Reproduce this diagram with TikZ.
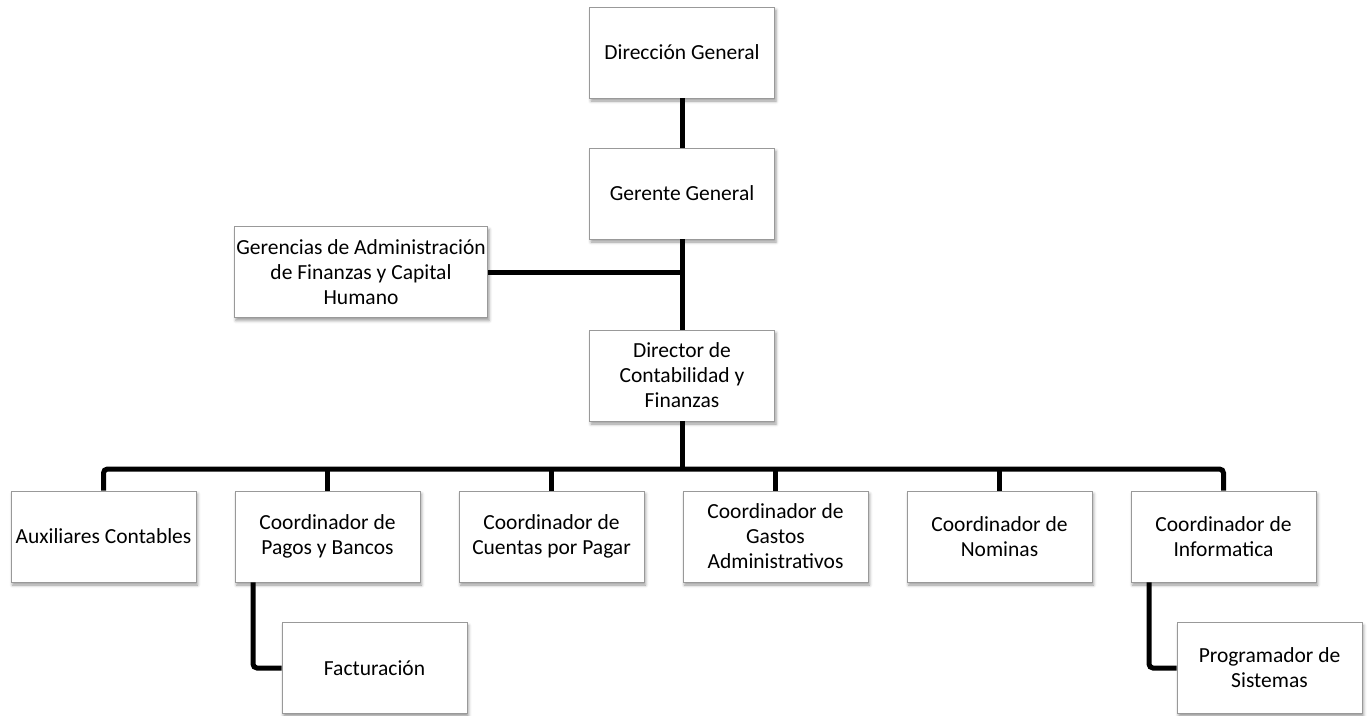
\documentclass[tikz,border=0pt]{standalone}
\usepackage{fontspec}
\setmainfont{Carlito}
\usetikzlibrary{shadows.blur}
\begin{document}
\begin{tikzpicture}[x=1pt, y=-1pt,
  orgbox/.style={draw=black!40, line width=0.8pt, fill=white,
    minimum width=185pt, minimum height=91pt, align=center, inner sep=2pt,
    font=\fontsize{21.5}{25}\selectfont,
    blur shadow={shadow xshift=1.5pt, shadow yshift=-3pt, shadow blur radius=3pt, shadow opacity=40}},
  link/.style={line width=5pt, black, rounded corners=4pt}]
\useasboundingbox (0,0) rectangle (1368,715);

% top chain
\node[orgbox] (dg)  at (682,52.5)  {Dirección General};
\node[orgbox] (gg)  at (682,193.5) {Gerente General};
\node[orgbox, minimum width=252pt] (gaf) at (361,272) {Gerencias de Administración\\de Finanzas y Capital\\Humano};
\node[orgbox] (dcf) at (682,375.5) {Director de\\Contabilidad y\\Finanzas};

% coordinators
\node[orgbox] (aux)  at (103.5,536.5)  {Auxiliares Contables};
\node[orgbox] (pag)  at (327.5,536.5)  {Coordinador de\\Pagos y Bancos};
\node[orgbox] (cxp)  at (551.5,536.5)  {Coordinador de\\Cuentas por Pagar};
\node[orgbox] (gas)  at (775.5,536.5)  {Coordinador de\\Gastos\\Administrativos};
\node[orgbox] (nom)  at (999.5,536.5)  {Coordinador de\\Nominas};
\node[orgbox] (inf)  at (1223.5,536.5) {Coordinador de\\Informatica};

% second level
\node[orgbox] (fac)  at (374.5,668)  {Facturación};
\node[orgbox] (prog) at (1269.5,668) {Programador de\\Sistemas};

\coordinate (bus) at (682,469);
\coordinate (side) at (682,272);

% connectors
\draw[link] (dg.south) -- (gg.north);
\draw[link] (gg.south) -- (dcf.north);
\draw[link] (gaf.east) -- (side);
\draw[link] (dcf.south) -- (bus);
\draw[link] (aux.north) |- (bus) -| (inf.north);
\draw[link] (pag.north) -- (pag.north |- bus);
\draw[link] (cxp.north) -- (cxp.north |- bus);
\draw[link] (gas.north) -- (gas.north |- bus);
\draw[link] (nom.north) -- (nom.north |- bus);
\draw[link] ([xshift=-74.5pt]pag.south) |- (fac.west);
\draw[link] ([xshift=-74.5pt]inf.south) |- (prog.west);
\end{tikzpicture}
\end{document}
